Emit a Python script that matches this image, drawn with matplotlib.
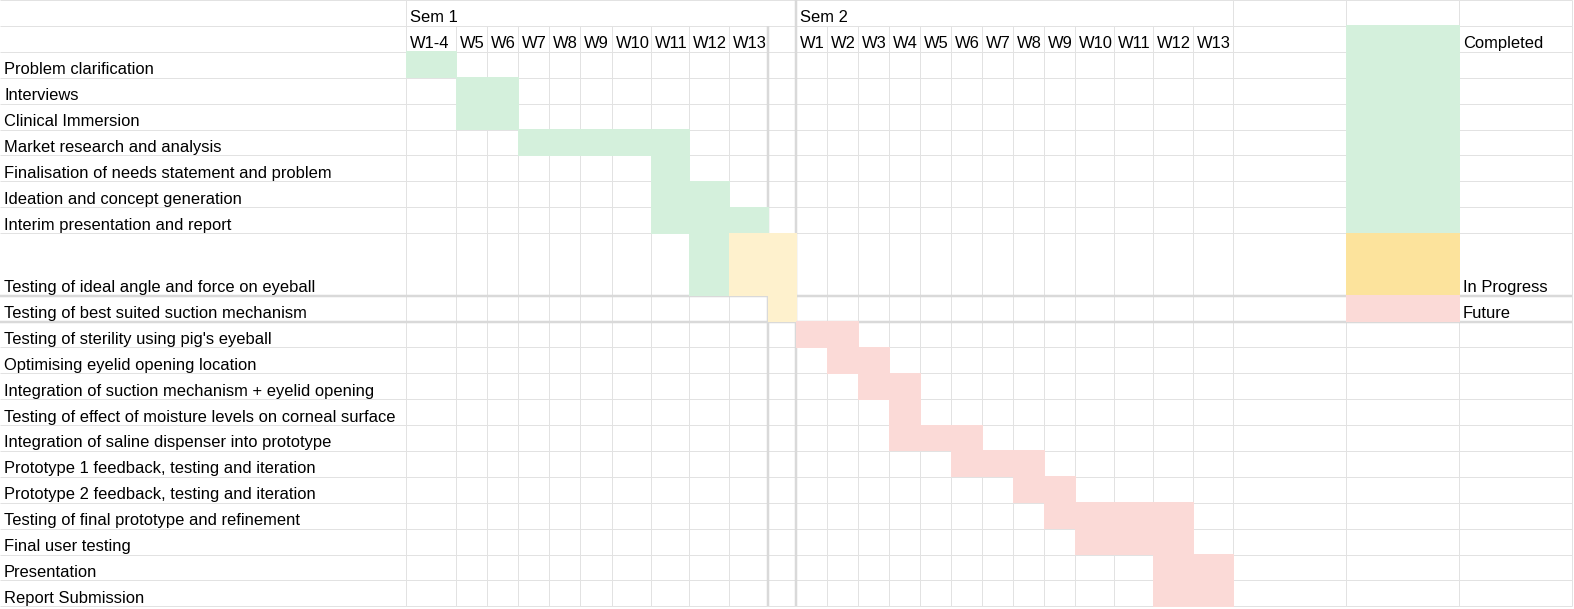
import numpy as np
import matplotlib.pyplot as plt
from matplotlib.patches import Rectangle

plt.rcParams['font.family'] = ['Liberation Sans', 'DejaVu Sans']

# ---- data ----
sem_labels = ["Sem 1", "Sem 2"]
sem1_weeks = ["W1-4", "W5", "W6", "W7", "W8", "W9", "W10", "W11", "W12", "W13"]
sem2_weeks = ["W1", "W2", "W3", "W4", "W5", "W6", "W7", "W8", "W9", "W10", "W11", "W12", "W13"]

tasks = [
    "Problem clarification",
    "Interviews",
    "Clinical Immersion",
    "Market research and analysis",
    "Finalisation of needs statement and problem",
    "Ideation and concept generation",
    "Interim presentation and report",
    "Testing of ideal angle and force on eyeball",
    "Testing of best suited suction mechanism",
    "Testing of sterility using pig's eyeball",
    "Optimising eyelid opening location",
    "Integration of suction mechanism + eyelid opening",
    "Testing of effect of moisture levels on corneal surface",
    "Integration of saline dispenser into prototype",
    "Prototype 1 feedback, testing and iteration",
    "Prototype 2 feedback, testing and iteration",
    "Testing of final prototype and refinement",
    "Final user testing",
    "Presentation",
    "Report Submission",
]

# (task, first week, last week, status)
segments = [
    ("Problem clarification", "S1 W1-4", "S1 W1-4", "Completed"),
    ("Interviews", "S1 W5", "S1 W6", "Completed"),
    ("Clinical Immersion", "S1 W5", "S1 W6", "Completed"),
    ("Market research and analysis", "S1 W7", "S1 W11", "Completed"),
    ("Finalisation of needs statement and problem", "S1 W11", "S1 W11", "Completed"),
    ("Ideation and concept generation", "S1 W11", "S1 W12", "Completed"),
    ("Interim presentation and report", "S1 W11", "S1 W13", "Completed"),
    ("Testing of ideal angle and force on eyeball", "S1 W12", "S1 W12", "Completed"),
    ("Testing of ideal angle and force on eyeball", "S1 W13", "Break", "In Progress"),
    ("Testing of best suited suction mechanism", "Break", "Break", "In Progress"),
    ("Testing of sterility using pig's eyeball", "S2 W1", "S2 W2", "Future"),
    ("Optimising eyelid opening location", "S2 W2", "S2 W3", "Future"),
    ("Integration of suction mechanism + eyelid opening", "S2 W3", "S2 W4", "Future"),
    ("Testing of effect of moisture levels on corneal surface", "S2 W4", "S2 W4", "Future"),
    ("Integration of saline dispenser into prototype", "S2 W4", "S2 W6", "Future"),
    ("Prototype 1 feedback, testing and iteration", "S2 W6", "S2 W8", "Future"),
    ("Prototype 2 feedback, testing and iteration", "S2 W8", "S2 W9", "Future"),
    ("Testing of final prototype and refinement", "S2 W9", "S2 W12", "Future"),
    ("Final user testing", "S2 W10", "S2 W12", "Future"),
    ("Presentation", "S2 W12", "S2 W13", "Future"),
    ("Report Submission", "S2 W12", "S2 W13", "Future"),
]

# legend: (label, first row, last row)
legend_items = [
    ("Completed", "Weeks", "Interim presentation and report"),
    ("In Progress", "Testing of ideal angle and force on eyeball", "Testing of ideal angle and force on eyeball"),
    ("Future", "Testing of best suited suction mechanism", "Testing of best suited suction mechanism"),
]

# ---- style / layout ----
bar_colors = {"Completed": "#d4f0dc", "In Progress": "#fef1cd", "Future": "#fbdad7"}
legend_colors = {"Completed": "#d4f0dc", "In Progress": "#fce39c", "Future": "#fbdad7"}
grid_color = "#e2e2e2"
thick_color = "#d9d9d9"
fs = 11.85

timeline = ["S1 " + w for w in sem1_weeks] + ["Break"] + ["S2 " + w for w in sem2_weeks]
columns = ["Label"] + timeline + ["Blank", "LegendColor", "LegendText"]
col_widths = ([406, 50, 31, 31, 31, 31, 32, 39, 38, 40, 39, 28]
              + [31] * 9 + [39, 39, 40, 40] + [113, 113, 113])
rows = ["Sem", "Weeks"] + tasks
row_heights = [25.9] * len(rows)
row_heights[rows.index("Testing of ideal angle and force on eyeball")] = 62.5

x_edges = np.concatenate([[0], np.cumsum(col_widths)])
y_edges = np.concatenate([[0], np.cumsum(row_heights)])
col_left = dict(zip(columns, x_edges[:-1]))
col_right = dict(zip(columns, x_edges[1:]))
row_top = dict(zip(rows, y_edges[:-1]))
row_bottom = dict(zip(rows, y_edges[1:]))

W, H, dpi = 1574, 609, 100
px = 72 / dpi
fig = plt.figure(figsize=(W / dpi, H / dpi), dpi=dpi)
ax = fig.add_axes([0, 0, 1, 1])
ax.set_xlim(0, W)
ax.set_ylim(H, 0)
ax.axis('off')

# gridlines
ax.hlines(y_edges, 0, x_edges[-1], color=grid_color, lw=px, zorder=1)
ax.vlines(x_edges[1:], y_edges[1], y_edges[-1], color=grid_color, lw=px, zorder=1)
top_groups = [col_right["Label"], col_left["S2 W1"], col_right["S2 W13"],
              col_right["Blank"], col_right["LegendColor"], col_right["LegendText"]]
ax.vlines(top_groups, 0, y_edges[1], color=grid_color, lw=px, zorder=1)

# thicker separators around the break column / best-suited row
br = "Testing of best suited suction mechanism"
ax.hlines([row_top[br], row_bottom[br]], 0, x_edges[-1], color=thick_color, lw=2.5 * px, zorder=1.5)
ax.vlines(col_left["Break"], y_edges[1], y_edges[-1], color=thick_color, lw=2.5 * px, zorder=1.5)
ax.vlines(col_right["Break"], 0, y_edges[-1], color=thick_color, lw=2.5 * px, zorder=1.5)

# gantt cells
for task, first, last, status in segments:
    x0, x1 = col_left[first], col_right[last]
    y0, y1 = row_top[task], row_bottom[task]
    ax.add_patch(Rectangle((x0 - 0.5, y0 - 0.5), x1 - x0 + 1, y1 - y0 + 1,
                           facecolor=bar_colors[status], edgecolor='none', zorder=2))

# legend cells, label sits in the first row of each block
for label, first, last in legend_items:
    x0, x1 = col_left["LegendColor"], col_right["LegendColor"]
    y0, y1 = row_top[first], row_bottom[last]
    ax.add_patch(Rectangle((x0 - 0.5, y0 - 0.5), x1 - x0 + 1, y1 - y0 + 1,
                           facecolor=legend_colors[label], edgecolor='none', zorder=2))
    ax.text(col_left["LegendText"] + 4, row_bottom[first] - 4, label, fontsize=fs,
            va='baseline', zorder=3)

# text
ax.text(col_left["S1 W1-4"] + 4, row_bottom["Sem"] - 4, sem_labels[0], fontsize=fs, va='baseline', zorder=3)
ax.text(col_left["S2 W1"] + 4, row_bottom["Sem"] - 4, sem_labels[1], fontsize=fs, va='baseline', zorder=3)
for c in timeline:
    if c == "Break":
        continue
    ax.text(col_left[c] + 4, row_bottom["Weeks"] - 4, c.split(" ")[1], fontsize=fs, va='baseline', zorder=3)
for t in tasks:
    ax.text(4, row_bottom[t] - 3.5, t, fontsize=fs, va='baseline', zorder=3)

fig.savefig("out.png", dpi=dpi, facecolor='white')
